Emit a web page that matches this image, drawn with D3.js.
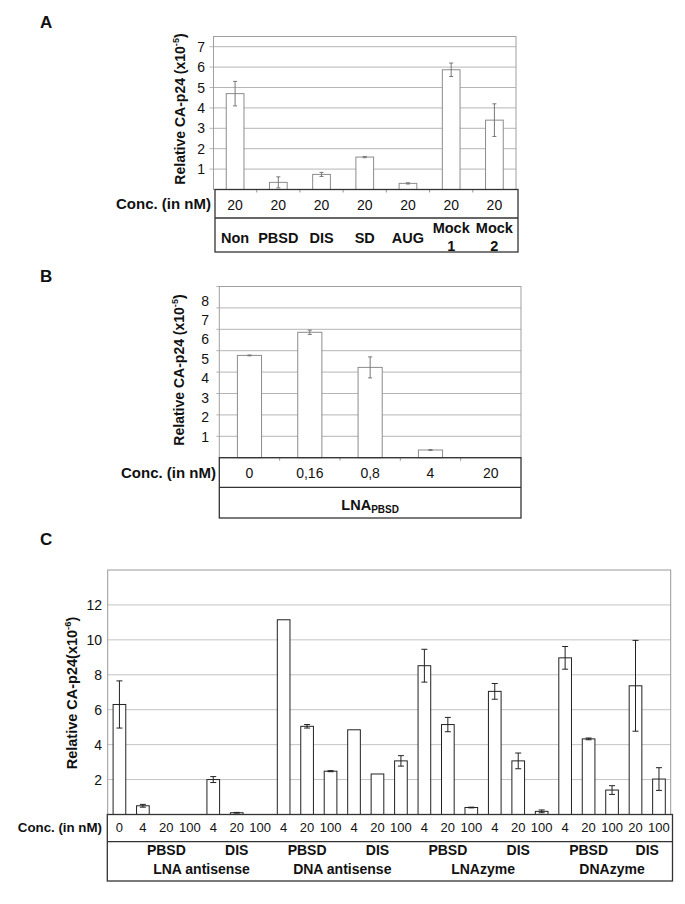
<!DOCTYPE html>
<html><head><meta charset="utf-8">
<script src="https://cdn.jsdelivr.net/npm/d3@7"></script>
<style>
body{margin:0;background:#fff}
svg{display:block}
text{font-family:"Liberation Sans",Arial,Helvetica,sans-serif;fill:#111}
</style>
</head><body>
<svg id="chart" width="685" height="904"></svg>
<script>
// ---------- Panel A data ----------
const catsA  = ["Non","PBSD","DIS","SD","AUG","Mock 1","Mock 2"];
const concA  = ["20","20","20","20","20","20","20"];
const valsA  = [4.7, 0.35, 0.74, 1.59, 0.3, 5.87, 3.4];
const errA   = [0.6, 0.27, 0.1, 0.03, 0.03, 0.33, 0.8];
const ticksA = [1,2,3,4,5,6,7];

// ---------- Panel B data ----------
const concB  = ["0","0,16","0,8","4","20"];
const valsB  = [4.78, 5.86, 4.22, 0.36, 0];
const errB   = [0.02, 0.1, 0.49, 0.02, 0];
const ticksB = [1,2,3,4,5,6,7,8];

// ---------- Panel C data ----------
const concC = ["0","4","20","100","4","20","100","4","20","100","4","20","100",
               "4","20","100","4","20","100","4","20","100","20","100"];
const valsC = [6.3,0.5,0,0,2.0,0.1,0,11.15,5.05,2.48,4.85,2.32,3.07,
               8.52,5.15,0.4,7.05,3.07,0.18,8.97,4.33,1.4,7.37,2.03];
const errC  = [1.35,0.08,0,0,0.17,0.02,0,0,0.1,0.03,0,0,0.3,
               0.94,0.41,0.02,0.45,0.45,0.08,0.65,0.05,0.25,2.6,0.65];
const ticksC = [2,4,6,8,10,12];
const subLabelsC = ["PBSD","DIS","PBSD","DIS","PBSD","DIS","PBSD","DIS"];
const subStartC  = [1,4,7,10,13,16,19,22];
const subEndC    = [3,6,9,12,15,18,21,23];
const groupLabelsC = ["LNA antisense","DNA antisense","LNAzyme","DNAzyme"];
const groupStartC  = [1,7,13,19];
const groupEndC    = [6,12,18,23];

const svg = d3.select("#chart");

function yLabel(g, x, y, size, text, sup, gap) {
  const t = g.append("text")
    .attr("transform", `translate(${x},${y}) rotate(-90)`)
    .attr("text-anchor","middle")
    .attr("font-weight","bold")
    .attr("font-size", size);
  t.append("tspan").text(text);
  t.append("tspan").attr("font-size", size*0.65).attr("dy", -size*0.4).text(sup);
  t.append("tspan").attr("dy", size*0.4).text(")");
}

function panelLetter(x, y, s) {
  svg.append("text").attr("x",x).attr("y",y).attr("font-size",17)
    .attr("font-weight","bold").text(s);
}

// ================= Panel A =================
(function(){
  const g = svg.append("g");
  const x0 = 213.5, x1 = 516, yb = 189.5, yt = 36.5;
  const x = d3.scaleBand().domain(d3.range(catsA.length)).range([x0,x1])
              .paddingInner(0.59).paddingOuter(0.295);
  const y = d3.scaleLinear().domain([0,7.5]).range([yb,yt]);

  g.selectAll(".grid").data(ticksA).join("line")
    .attr("x1",x0-4).attr("x2",x1).attr("y1",d=>y(d)).attr("y2",d=>y(d))
    .attr("stroke","#b5b5b5").attr("stroke-width",1);
  g.append("rect").attr("x",x0).attr("y",yt).attr("width",x1-x0).attr("height",yb-yt)
    .attr("fill","none").attr("stroke","#a0a0a0");
  g.selectAll(".tl").data(ticksA).join("text")
    .attr("x",205).attr("y",d=>y(d)).attr("dy","0.36em").attr("text-anchor","end")
    .attr("font-size",14).text(d=>d);
  // category ticks on baseline
  g.selectAll(".ct").data(d3.range(1,catsA.length)).join("line")
    .attr("x1",d=>x0+d*x.step()).attr("x2",d=>x0+d*x.step())
    .attr("y1",yb).attr("y2",yb+3).attr("stroke","#999");

  g.selectAll(".bar").data(valsA).join("rect")
    .attr("x",(d,i)=>x(i)).attr("width",x.bandwidth())
    .attr("y",d=>y(d)).attr("height",d=>y(0)-y(d))
    .attr("fill","#fff").attr("stroke","#8c8c8c").attr("stroke-width",1);
  const eb = g.selectAll(".eb").data(valsA).join("g");
  eb.append("line").attr("x1",(d,i)=>x(i)+x.bandwidth()/2).attr("x2",(d,i)=>x(i)+x.bandwidth()/2)
    .attr("y1",(d,i)=>y(d-errA[i])).attr("y2",(d,i)=>y(d+errA[i])).attr("stroke","#777");
  [-1,1].forEach(s=>{
    eb.append("line").attr("x1",(d,i)=>x(i)+x.bandwidth()/2-2).attr("x2",(d,i)=>x(i)+x.bandwidth()/2+2)
      .attr("y1",(d,i)=>y(d+s*errA[i])).attr("y2",(d,i)=>y(d+s*errA[i])).attr("stroke","#777");
  });

  // table
  const tx0 = 215, tx1 = 518, r1 = 218, r2 = 252;
  g.append("rect").attr("x",tx0).attr("y",yb).attr("width",tx1-tx0).attr("height",r2-yb)
    .attr("fill","none").attr("stroke","#333").attr("stroke-width",1.3);
  g.append("line").attr("x1",tx0).attr("x2",tx1).attr("y1",r1).attr("y2",r1)
    .attr("stroke","#333").attr("stroke-width",1.3);
  g.append("text").attr("x",211).attr("y",209).attr("text-anchor","end")
    .attr("font-size",15).attr("font-weight","bold").text("Conc. (in nM)");
  g.selectAll(".c1").data(concA).join("text")
    .attr("x",(d,i)=>x(i)+x.bandwidth()/2).attr("y",210).attr("text-anchor","middle")
    .attr("font-size",14).text(d=>d);
  catsA.forEach((c,i)=>{
    const parts = c.split(" ");
    const t = g.append("text").attr("text-anchor","middle").attr("font-size",14.5)
      .attr("font-weight","bold");
    if (parts.length === 1) {
      t.attr("x",x(i)+x.bandwidth()/2).attr("y",243).text(c);
    } else {
      parts.forEach((p,k)=>t.append("tspan").attr("x",x(i)+x.bandwidth()/2)
        .attr("y",k===0?233:250.5).text(p));
    }
  });
  yLabel(g, 185, 109, 14, "Relative CA-p24 (x10", "-5");
  panelLetter(40, 28, "A");
})();

// ================= Panel B =================
(function(){
  const g = svg.append("g");
  const x0 = 219.3, x1 = 521, yb = 457.7, yt = 286.5;
  const x = d3.scaleBand().domain(d3.range(concB.length)).range([x0,x1])
              .paddingInner(0.6).paddingOuter(0.3);
  const y = d3.scaleLinear().domain([0,8]).range([yb,yt]);
  const yLab = d3.scaleLinear().domain([1,8]).range([436.7,300.5]);

  g.selectAll(".grid").data(ticksB).join("line")
    .attr("x1",x0-3).attr("x2",x1).attr("y1",d=>y(d)).attr("y2",d=>y(d))
    .attr("stroke","#b5b5b5").attr("stroke-width",1);
  g.append("rect").attr("x",x0).attr("y",yt).attr("width",x1-x0).attr("height",yb-yt)
    .attr("fill","none").attr("stroke","#a0a0a0");
  g.selectAll(".tl").data(ticksB).join("text")
    .attr("x",209).attr("y",d=>yLab(d)).attr("dy","0.36em").attr("text-anchor","end")
    .attr("font-size",14).text(d=>d);
  g.selectAll(".ct").data(d3.range(1,concB.length)).join("line")
    .attr("x1",d=>x0+d*x.step()).attr("x2",d=>x0+d*x.step())
    .attr("y1",yb).attr("y2",yb+3).attr("stroke","#999");

  g.selectAll(".bar").data(valsB).join("rect")
    .attr("x",(d,i)=>x(i)).attr("width",x.bandwidth())
    .attr("y",d=>y(d)).attr("height",d=>y(0)-y(d))
    .attr("fill","#fff").attr("stroke","#8c8c8c").attr("stroke-width",1);
  const eb = g.selectAll(".eb").data(valsB).join("g");
  eb.append("line").attr("x1",(d,i)=>x(i)+x.bandwidth()/2).attr("x2",(d,i)=>x(i)+x.bandwidth()/2)
    .attr("y1",(d,i)=>y(d-errB[i])).attr("y2",(d,i)=>y(d+errB[i])).attr("stroke","#777");
  [-1,1].forEach(s=>{
    eb.append("line").attr("x1",(d,i)=>x(i)+x.bandwidth()/2-2).attr("x2",(d,i)=>x(i)+x.bandwidth()/2+2)
      .attr("y1",(d,i)=>y(d+s*errB[i])).attr("y2",(d,i)=>y(d+s*errB[i]))
      .attr("stroke","#777").attr("opacity",(d,i)=>errB[i]>0?1:0);
  });

  const r1 = 487.3, r2 = 518;
  g.append("rect").attr("x",x0).attr("y",yb).attr("width",x1-x0).attr("height",r2-yb)
    .attr("fill","none").attr("stroke","#333").attr("stroke-width",1.3);
  g.append("line").attr("x1",x0).attr("x2",x1).attr("y1",r1).attr("y2",r1)
    .attr("stroke","#333").attr("stroke-width",1.3);
  g.append("text").attr("x",216).attr("y",478).attr("text-anchor","end")
    .attr("font-size",15).attr("font-weight","bold").text("Conc. (in nM)");
  g.selectAll(".c1").data(concB).join("text")
    .attr("x",(d,i)=>x(i)+x.bandwidth()/2).attr("y",478).attr("text-anchor","middle")
    .attr("font-size",14).text(d=>d);
  const t = g.append("text").attr("x",(x0+x1)/2).attr("y",510).attr("text-anchor","middle")
    .attr("font-size",14.5).attr("font-weight","bold");
  t.append("tspan").text("LNA");
  t.append("tspan").attr("font-size",10).attr("dy",3).text("PBSD");
  yLabel(g, 184, 370, 14, "Relative CA-p24 (x10", "-5");
  panelLetter(40, 282, "B");
})();

// ================= Panel C =================
(function(){
  const g = svg.append("g");
  const x0 = 107.7, x1 = 670.7, yb = 814.5, yt = 570;
  const x = d3.scaleBand().domain(d3.range(concC.length)).range([x0,x1])
              .paddingInner(0.46).paddingOuter(0.23);
  const y = d3.scaleLinear().domain([0,14]).range([yb,yt]);
  const cx = i => x(i)+x.bandwidth()/2;
  const mid = (a,b) => (x(a)+x(b)+x.bandwidth())/2;

  g.selectAll(".grid").data(ticksC).join("line")
    .attr("x1",x0).attr("x2",x1).attr("y1",d=>y(d)).attr("y2",d=>y(d))
    .attr("stroke","#c4c4c4").attr("stroke-width",1);
  g.append("rect").attr("x",x0).attr("y",yt).attr("width",x1-x0).attr("height",yb-yt)
    .attr("fill","none").attr("stroke","#999");
  g.selectAll(".tl").data(ticksC).join("text")
    .attr("x",102).attr("y",d=>y(d)).attr("dy","0.36em").attr("text-anchor","end")
    .attr("font-size",14).text(d=>d);

  g.selectAll(".bar").data(valsC).join("rect")
    .attr("x",(d,i)=>x(i)).attr("width",x.bandwidth())
    .attr("y",d=>y(d)).attr("height",d=>y(0)-y(d))
    .attr("fill","#fff").attr("stroke","#222").attr("stroke-width",1)
    .attr("opacity",d=>d>0?1:0);
  const eb = g.selectAll(".eb").data(valsC).join("g").attr("opacity",(d,i)=>errC[i]>0?1:0);
  eb.append("line").attr("x1",(d,i)=>cx(i)).attr("x2",(d,i)=>cx(i))
    .attr("y1",(d,i)=>y(d-errC[i])).attr("y2",(d,i)=>y(d+errC[i])).attr("stroke","#222");
  [-1,1].forEach(s=>{
    eb.append("line").attr("x1",(d,i)=>cx(i)-3).attr("x2",(d,i)=>cx(i)+3)
      .attr("y1",(d,i)=>y(d+s*errC[i])).attr("y2",(d,i)=>y(d+s*errC[i])).attr("stroke","#222");
  });

  const tx0 = 107.3, tx1 = 672.5, r1 = 841.7, r2 = 881;
  g.append("rect").attr("x",tx0).attr("y",yb).attr("width",tx1-tx0).attr("height",r2-yb)
    .attr("fill","none").attr("stroke","#333").attr("stroke-width",1.3);
  g.append("line").attr("x1",tx0).attr("x2",tx1).attr("y1",r1).attr("y2",r1)
    .attr("stroke","#333").attr("stroke-width",1.3);
  g.append("text").attr("x",102).attr("y",832).attr("text-anchor","end")
    .attr("font-size",13.3).attr("font-weight","bold").text("Conc. (in nM)");
  g.selectAll(".c1").data(concC).join("text")
    .attr("x",(d,i)=>cx(i)).attr("y",832).attr("text-anchor","middle")
    .attr("font-size",13).text(d=>d);
  g.selectAll(".sub").data(subLabelsC).join("text")
    .attr("x",(d,i)=>mid(subStartC[i],subEndC[i])).attr("y",855).attr("text-anchor","middle")
    .attr("font-size",14).attr("font-weight","bold").text(d=>d);
  g.selectAll(".grp").data(groupLabelsC).join("text")
    .attr("x",(d,i)=>mid(groupStartC[i],groupEndC[i])).attr("y",874).attr("text-anchor","middle")
    .attr("font-size",14).attr("font-weight","bold").text(d=>d);
  yLabel(g, 77, 693, 14.5, "Relative CA-p24(x10", "-6");
  panelLetter(40, 545, "C");
})();
</script>
</body></html>
